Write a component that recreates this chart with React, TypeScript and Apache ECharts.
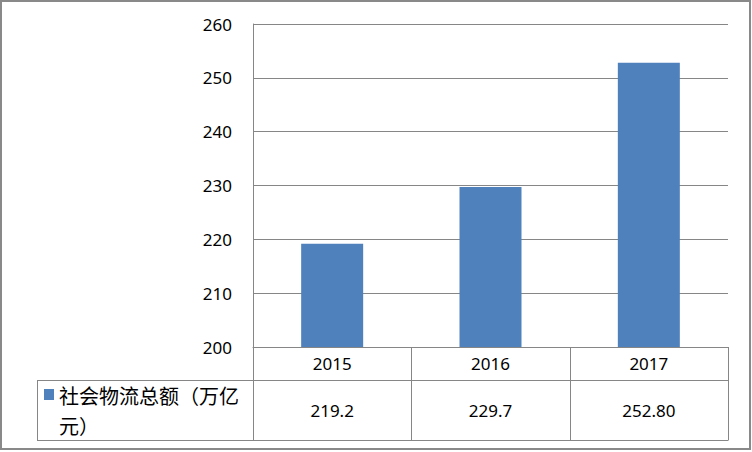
import React, { useEffect, useRef } from 'react';
import * as echarts from 'echarts';

// data
const categories = ['2015', '2016', '2017'];
const values = [219.2, 229.7, 252.8];
const valueLabels = ['219.2', '229.7', '252.80'];
const seriesName = '社会物流总额（万亿元）';
const legendLines = ['社会物流总额（万亿', '元）'];
const yMin = 200;
const yMax = 260;
const yStep = 10;

const GRID = { left: 253, top: 24, width: 475, height: 323 };
const ROW1 = 33; // header row height
const ROW2 = 60; // value row height
const LEGEND_LEFT = 37;
const LINE = '#868686';
const NUM_FONT = "'Noto Sans', 'Liberation Sans', sans-serif";
const CJK_FONT = "'Noto Sans CJK SC', sans-serif";

const App: React.FC = () => {
  const chartRef = useRef<HTMLDivElement>(null);

  useEffect(() => {
    if (!chartRef.current) return;
    const chart = echarts.init(chartRef.current, null, { renderer: 'svg' });

    const bottom = GRID.top + GRID.height;
    const right = GRID.left + GRID.width;
    const catW = GRID.width / categories.length;

    // table lines below the plot
    const tableLines: any[] = [];
    for (let i = 0; i <= categories.length; i++) {
      const x = Math.round(GRID.left + i * catW) + 0.5;
      tableLines.push({
        type: 'line',
        shape: { x1: x, y1: bottom, x2: x, y2: bottom + ROW1 + ROW2 },
        style: { stroke: LINE, lineWidth: 1 },
        silent: true,
      });
    }
    [bottom + ROW1, bottom + ROW1 + ROW2].forEach((y) => {
      tableLines.push({
        type: 'line',
        shape: { x1: LEGEND_LEFT, y1: y + 0.5, x2: right + 0.5, y2: y + 0.5 },
        style: { stroke: LINE, lineWidth: 1 },
        silent: true,
      });
    });
    tableLines.push({
      type: 'line',
      shape: { x1: LEGEND_LEFT + 0.5, y1: bottom + ROW1, x2: LEGEND_LEFT + 0.5, y2: bottom + ROW1 + ROW2 },
      style: { stroke: LINE, lineWidth: 1 },
      silent: true,
    });

    // legend cell text, one element per wrapped line
    const legendTexts = legendLines.map((line, i) => ({
      type: 'text',
      x: 59,
      y: bottom + ROW1 + 15.5 + i * 30,
      style: {
        text: line,
        fill: '#000',
        font: `20px ${CJK_FONT}`,
        verticalAlign: 'middle',
      },
      silent: true,
    }));

    const option = {
      animation: false,
      backgroundColor: '#ffffff',
      grid: { ...GRID, containLabel: false },
      xAxis: [
        {
          type: 'category',
          data: categories,
          position: 'bottom',
          axisLine: { show: true, lineStyle: { color: LINE } },
          axisTick: { show: false },
          axisLabel: { color: '#000', fontSize: 17, fontFamily: NUM_FONT, lineHeight: 17, margin: 8 },
        },
        {
          type: 'category',
          data: valueLabels,
          position: 'bottom',
          offset: ROW1,
          axisLine: { show: false },
          axisTick: { show: false },
          axisLabel: { color: '#000', fontSize: 17, fontFamily: NUM_FONT, lineHeight: 17, margin: 22 },
        },
      ],
      yAxis: {
        type: 'value',
        min: yMin,
        max: yMax,
        interval: yStep,
        axisLine: { show: true, lineStyle: { color: LINE } },
        axisTick: { show: false },
        axisLabel: { color: '#000', fontSize: 17, fontFamily: NUM_FONT, margin: 21 },
        splitLine: { show: true, lineStyle: { color: LINE } },
      },
      series: [
        {
          name: seriesName,
          type: 'bar',
          data: values,
          barWidth: 62,
          itemStyle: { color: '#4F81BD' },
        },
      ],
      graphic: [
        {
          type: 'rect',
          shape: { x: 1, y: 1, width: 749, height: 448 },
          style: { fill: 'none', stroke: '#898989', lineWidth: 2 },
          silent: true,
        },
        ...tableLines,
        {
          type: 'rect',
          shape: { x: 44, y: 389, width: 10, height: 11 },
          style: { fill: '#4F81BD' },
          silent: true,
        },
        ...legendTexts,
      ],
    } as any;

    chart.setOption(option);
    return () => chart.dispose();
  }, []);

  return (
    <div
      ref={chartRef}
      style={{ position: 'fixed', left: 0, top: 0, width: 752, height: 452 }}
    />
  );
};

export default App;
